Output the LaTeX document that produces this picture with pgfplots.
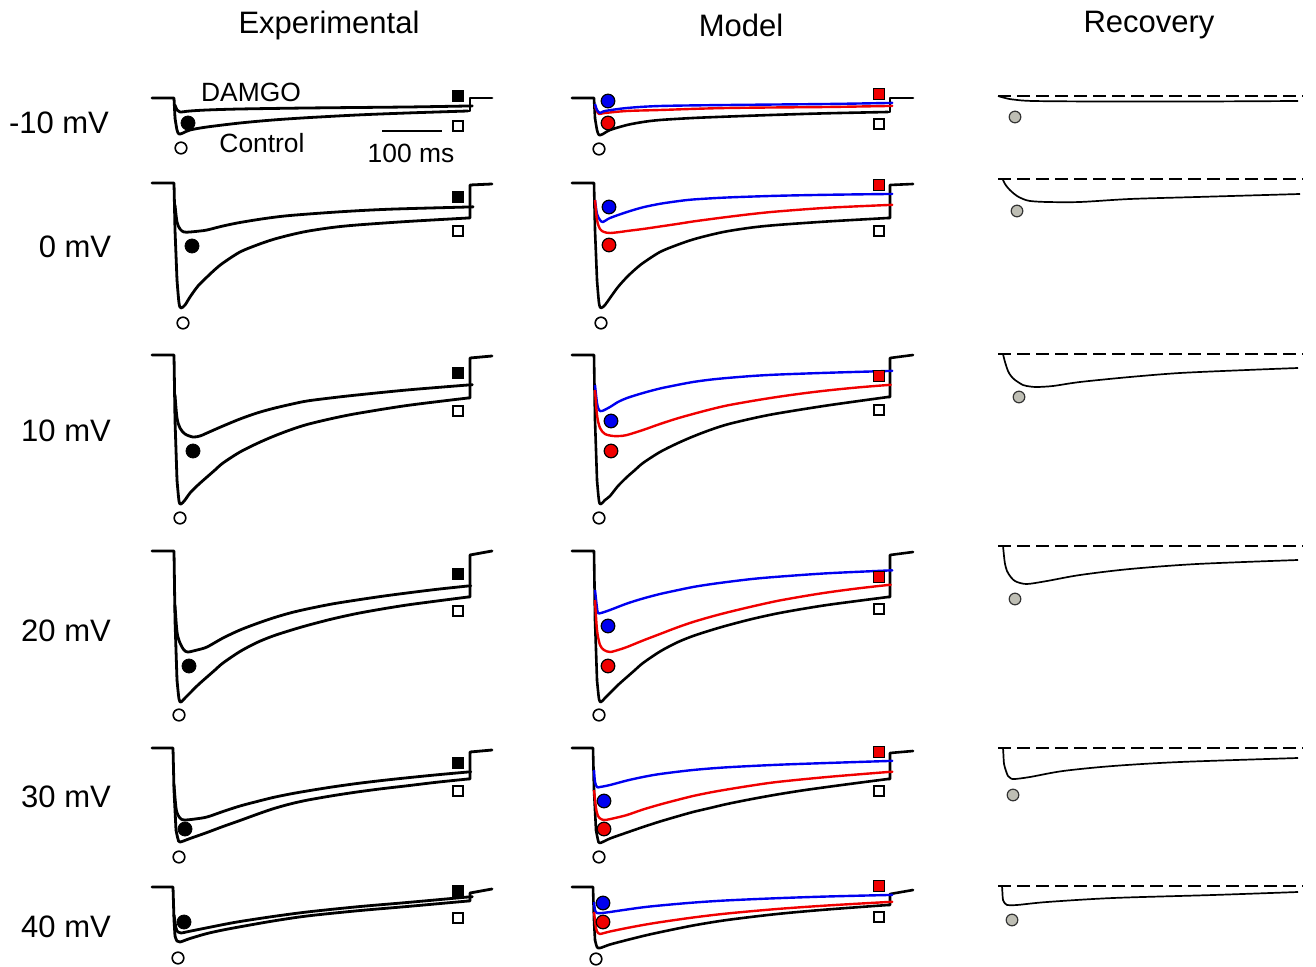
\documentclass[border=0pt]{standalone}
\usepackage{pgfplots}
\pgfplotsset{compat=1.18}
\usepackage{fontspec}
\setmainfont{Liberation Sans}
\definecolor{tblue}{RGB}{0,0,240}
\definecolor{tred}{RGB}{240,0,0}
\definecolor{tgray}{RGB}{190,190,180}
\pgfplotsset{
  ex/.style={black, line width=1.4pt, mark=none, line join=round, line cap=round},
  exs/.style={ex, smooth, tension=0.5},
  mb/.style={black, line width=1.3pt, mark=none, line join=round, line cap=round},
  mbs/.style={mb, smooth, tension=0.5},
  mr/.style={tred, line width=1.2pt, mark=none, line join=round, smooth, tension=0.5},
  mbl/.style={tblue, line width=1.2pt, mark=none, line join=round, smooth, tension=0.5},
  rc/.style={black, line width=0.85pt, mark=none, line join=round, smooth, tension=0.5},
  rd/.style={black, line width=0.9pt, mark=none, dash pattern=on 6.5pt off 3pt},
  fc/.style={only marks, mark=*, mark size=3.5pt, mark options={fill=black, draw=black}},
  oc/.style={only marks, mark=o, mark size=2.9pt, mark options={draw=black, line width=0.8pt, fill=white}},
  fs/.style={only marks, mark=square*, mark size=2.8pt, mark options={fill=black, draw=black}},
  os/.style={only marks, mark=square, mark size=2.6pt, mark options={draw=black, line width=0.8pt}},
  bc/.style={only marks, mark=*, mark size=3.4pt, mark options={fill=tblue, draw=black, line width=0.6pt}},
  rcm/.style={only marks, mark=*, mark size=3.4pt, mark options={fill=tred, draw=black, line width=0.6pt}},
  rs/.style={only marks, mark=square*, mark size=2.8pt, mark options={fill=tred, draw=black, line width=0.6pt}},
  gc/.style={only marks, mark=*, mark size=2.9pt, mark options={fill=tgray, draw=black!80, line width=0.6pt}},
}
\begin{document}
\begin{tikzpicture}
\begin{axis}[x=0.5pt, y=0.5pt, y dir=reverse, xmin=0, xmax=1316, ymin=0, ymax=967,
  hide axis, clip=false, scale only axis]
\addplot[draw=none, mark=none] coordinates {(0,0) (1316,967)};
% ---------------- Experimental ----------------
% row -10 mV
\addplot[ex] coordinates {(152,98)(174,98)(175,118)};
\addplot[exs] coordinates {(175,118)(177,130)(179,134)(183,133)(190,130)(207,127)(240,123)(273,120)(307,117.7)(357,115)(407,113)(468,111)};
\addplot[ex] coordinates {(468,111)(470,111)(470,98)(492,98)};
\addplot[exs] coordinates {(175,105)(177,110)(180,112)(190,111)(207,110)(240,109)(307,108)(407,107)(468,106)(470,106)};
% row 0 mV
\addplot[ex] coordinates {(152,183)(174,183)(175,230)(177,280)};
\addplot[exs] coordinates {(177,280)(179,303)(181,308)(185,305)(190,297)(198,286)(207,277)(215,269.5)(223,263)(240,252)(257,245)(273,239.5)(290,235)(307,231.3)(332,227.5)(357,225)(407,221.5)(468,218)};
\addplot[ex] coordinates {(468,218)(470,218)(470,185)(492,184)};
\addplot[exs] coordinates {(175,205)(177,222)(180,229)(184,232)(190,232)(200,231)(207,230)(223,226)(240,222.5)(265,218.5)(290,215.5)(340,211.8)(390,209.2)(468,207)(470,207)};
% row 10 mV
\addplot[ex] coordinates {(152,355)(174,355)(175,420)(177,480)};
\addplot[exs] coordinates {(177,480)(179,501)(181,504)(185,500)(190,493)(198,485)(207,477)(215,470)(223,463)(240,452)(257,443.5)(273,436.5)(290,430)(307,424.5)(332,418.5)(357,413.5)(407,405.5)(468,398)};
\addplot[ex] coordinates {(468,398)(470,398)(470,358)(492,356)};
\addplot[exs] coordinates {(175,395)(177,418)(180,428)(185,434)(193,437)(200,436)(207,433)(223,426)(240,419)(257,413)(273,408.5)(290,404.5)(307,401)(332,397.8)(357,395)(407,390)(468,385)(470,385)};
% row 20 mV
\addplot[ex] coordinates {(152,551)(174,551)(175,620)(177,680)};
\addplot[exs] coordinates {(177,680)(179,699)(181,702)(185,698)(190,693)(198,685)(207,677)(215,670)(223,663)(240,651.5)(257,642.5)(273,636)(290,630.5)(307,625.5)(332,619)(357,613.5)(382,609)(407,605)(437,601)(468,597)};
\addplot[ex] coordinates {(468,597)(470,597)(470,555)(492,551)};
\addplot[exs] coordinates {(175,605)(177,632)(180,643)(184,650)(188,652)(197,650)(207,647)(223,638)(240,630)(257,623.5)(273,618)(290,613)(307,609)(332,604)(357,600)(382,596.3)(407,593)(437,589.3)(468,586)(470,586)};
% row 30 mV
\addplot[ex] coordinates {(152,748)(173,748)(174,790)(176,830)};
\addplot[exs] coordinates {(176,830)(178,839)(180,842)(190,838.5)(207,832.5)(223,826.5)(240,820.5)(257,814.3)(273,808.8)(290,804)(307,800.2)(332,795.8)(357,792)(382,788.7)(407,785.8)(437,782.2)(468,779)};
\addplot[ex] coordinates {(468,779)(470,779)(470,752)(492,750)};
\addplot[exs] coordinates {(174,785)(176,808)(178,815)(181,819)(185,820)(195,819)(207,817)(223,811.5)(240,806)(257,801.5)(273,797.5)(290,794)(307,791)(332,787)(357,783.5)(382,780.5)(407,777.8)(437,774.8)(468,772)(470,772)};
% row 40 mV
\addplot[ex] coordinates {(152,887)(173,887)(174,920)(175,936)};
\addplot[exs] coordinates {(175,936)(177,941)(180,942)(190,938.5)(207,933.5)(223,930)(240,926.8)(273,921)(307,916)(357,910.8)(407,906.5)(468,901)};
\addplot[ex] coordinates {(468,901)(470,901)(470,893)(492,889)};
\addplot[exs] coordinates {(174,915)(176,928)(178,932)(181,933)(190,931.2)(207,927.8)(223,924.6)(240,921.5)(273,916.5)(307,912)(357,906.8)(407,902.5)(468,897)(470,897)};
% markers experimental
\addplot[fc] coordinates {(188,123)(192,246)(193,451)(189,666)(185,829)(184,922)};
\addplot[oc] coordinates {(181,148)(183,323)(180,518)(179,715)(179,857)(178,958)};
\addplot[fs] coordinates {(458,96)(458,197)(458,373)(458,574)(458,763)(458,891)};
\addplot[os] coordinates {(458,126)(458,231)(458,411)(458,611)(458,791)(458,918)};
% scale bar
\addplot[black, line width=0.8pt, mark=none] coordinates {(382,131)(442,131)};
% ---------------- Model ----------------
% row -10
\addplot[mb] coordinates {(572,98)(594,98)(595,118)};
\addplot[mbs] coordinates {(595,118)(597,130)(599,135)(603,134)(610,130)(627,125)(643,122)(660,120)(693,118)(727,116.6)(777,114.8)(827,113.3)(888,112)};
\addplot[mb] coordinates {(888,112)(890,112)(890,98)(913,98)};
\addplot[mr] coordinates {(595,106)(597,111)(599,114)(605,113)(627,111)(660,110)(727,108)(827,107)(888,106)(890,106)};
\addplot[mbl] coordinates {(595,104)(597,110)(600,113)(605,111)(627,108)(660,106)(727,105)(827,104)(888,103)(890,103)};
% row 0
\addplot[mb] coordinates {(572,183)(594,183)(595,230)(597,280)};
\addplot[mbs] coordinates {(597,280)(599,303)(601,308)(605,305)(610,298)(618,287)(627,277)(635,269.5)(643,263)(660,252)(677,245)(693,239.5)(710,235)(727,231.3)(752,227.5)(777,225)(827,221.5)(888,218)};
\addplot[mb] coordinates {(888,218)(890,218)(890,185)(913,184)};
\addplot[mbl] coordinates {(595,200)(597,214)(600,220)(603,222)(610,218)(627,212)(643,207.3)(660,203.8)(677,201.3)(693,199.5)(727,197.5)(777,195.8)(827,194.8)(888,194)(890,194)};
\addplot[mr] coordinates {(595,200)(597,220)(600,229)(604,232)(610,233)(620,232)(627,231)(643,229)(660,226.5)(677,224)(693,221.5)(710,219.2)(727,217)(752,214)(777,211.5)(827,207.8)(888,205)(890,205)};
% row 10
\addplot[mb] coordinates {(572,355)(594,355)(595,420)(597,480)};
\addplot[mbs] coordinates {(597,480)(599,501)(601,504)(605,500)(610,496)(618,486)(627,477)(635,470)(643,463)(660,452)(677,443.5)(693,436.5)(710,430)(727,424.5)(752,418.5)(777,413.5)(827,405.5)(888,397)};
\addplot[mb] coordinates {(888,397)(890,397)(890,358)(913,355)};
\addplot[mbl] coordinates {(595,385)(597,403)(599,410)(602,411)(610,407)(618,402)(627,398)(643,393)(660,388.5)(677,385)(693,382)(710,379.7)(727,378)(752,376)(777,374.6)(827,372.8)(888,371)(890,371)};
\addplot[mr] coordinates {(595,390)(597,415)(600,428)(605,434)(613,436)(620,436)(627,435)(643,430)(660,424)(677,418.5)(693,414)(710,409.5)(727,405.5)(752,401)(777,397)(802,393.5)(827,390.5)(857,387.5)(888,385)(890,385)};
% row 20
\addplot[mb] coordinates {(572,551)(594,551)(595,620)(597,680)};
\addplot[mbs] coordinates {(597,680)(599,699)(601,702)(605,698)(610,693)(618,685)(627,677)(635,670)(643,663)(660,651.5)(677,642.5)(693,636)(710,630.5)(727,625.5)(752,619)(777,613.5)(802,609)(827,605)(857,601)(888,597)};
\addplot[mb] coordinates {(888,597)(890,597)(890,555)(913,552)};
\addplot[mbl] coordinates {(595,590)(597,608)(598,613)(601,613)(610,610)(627,603.5)(643,598.5)(660,594)(677,590.3)(693,587)(710,584.3)(727,582)(752,579)(777,576.8)(827,573.3)(888,570.5)(890,570.5)};
\addplot[mr] coordinates {(595,600)(597,630)(600,645)(604,650)(610,652)(618,650)(627,647)(643,640.5)(660,634)(677,627.5)(693,622)(710,617)(727,612.5)(752,606.5)(777,601)(802,596.5)(827,592.5)(857,588.5)(888,585)(890,585)};
% row 30
\addplot[mb] coordinates {(572,748)(593,748)(594,790)(596,830)};
\addplot[mbs] coordinates {(596,830)(598,840)(600,843)(610,838.5)(627,832.5)(643,827)(660,821.5)(677,816.5)(693,812)(710,808)(727,804)(752,799)(777,794.5)(802,790.5)(827,787)(857,783)(888,779)};
\addplot[mb] coordinates {(888,779)(890,779)(890,753)(913,751)};
\addplot[mbl] coordinates {(594,770)(595,782)(597,787)(600,787)(610,785)(627,780.5)(643,777)(660,774)(693,770)(727,767.3)(777,764.8)(827,763)(888,761)(890,761)};
\addplot[mr] coordinates {(594,790)(596,808)(598,816)(601,819)(605,820)(615,818)(627,815)(643,809.5)(660,804.5)(677,800)(693,796)(710,792.5)(727,789.5)(752,785.5)(777,782)(827,777)(888,772)(890,772)};
% row 40
\addplot[mb] coordinates {(572,887)(593,887)(594,920)(595,940)};
\addplot[mbs] coordinates {(595,940)(597,947)(600,948)(610,944.5)(627,940)(643,936)(660,932.2)(693,925.5)(727,920)(777,914)(827,909.5)(888,905)};
\addplot[mb] coordinates {(888,905)(890,905)(890,894)(913,890)};
\addplot[mbl] coordinates {(594,902)(595,910)(597,913)(602,913)(610,912)(627,909.5)(643,907.3)(660,905.5)(693,902.6)(727,900.4)(777,898.2)(827,896.5)(888,895)(890,895)};
\addplot[mr] coordinates {(594,912)(596,928)(598,933)(600,934)(610,931.5)(627,928)(643,925)(660,922.2)(693,917.5)(727,913.5)(777,909)(827,905.5)(888,902)(890,902)};
% markers model
\addplot[bc] coordinates {(608,101)(609,207)(611,421)(608,626)(604,801)(603,903)};
\addplot[rcm] coordinates {(608,123)(609,245)(611,451)(608,666)(604,829)(603,922)};
\addplot[oc] coordinates {(599,149)(601,323)(599,518)(599,715)(599,857)(596,959)};
\addplot[rs] coordinates {(879,94)(879,185)(879,376)(879,577)(879,752)(879,886)};
\addplot[os] coordinates {(879,124)(879,231)(879,410)(879,609)(879,791)(879,917)};
% ---------------- Recovery ----------------
\addplot[rd] coordinates {(998,96)(1303,96)};
\addplot[rd] coordinates {(998,179)(1303,179)};
\addplot[rd] coordinates {(998,354)(1303,354)};
\addplot[rd] coordinates {(998,546)(1303,546)};
\addplot[rd] coordinates {(998,748)(1303,748)};
\addplot[rd] coordinates {(998,886)(1303,886)};
\addplot[rc] coordinates {(998,96)(1005,98)(1013,99.5)(1033,101)(1100,101.5)(1200,101.5)(1298,101)};
\addplot[rc] coordinates {(1003,180)(1005,184)(1008,188)(1012,192)(1017,196)(1023,199)(1030,201)(1047,202)(1080,202)(1130,199)(1197,197)(1300,194)};
\addplot[rc] coordinates {(1003,354)(1005,362)(1008,371)(1011,376)(1015,380)(1023,385)(1030,386.5)(1037,387)(1053,386)(1080,382)(1130,377)(1180,373)(1247,370)(1298,368)};
\addplot[rc] coordinates {(1003,546)(1004,556)(1005,564)(1007,571)(1010,576)(1013,579.5)(1017,582)(1027,584)(1047,581)(1080,575)(1130,569)(1197,564)(1298,560)};
\addplot[rc] coordinates {(1003,748)(1003.5,756)(1004,764)(1006,771)(1008,776)(1011,778.5)(1015,779)(1030,777)(1063,771)(1113,766)(1180,762)(1298,758)};
\addplot[rc] coordinates {(1002,886)(1002.5,894)(1003,900)(1005,903.5)(1007,905)(1017,905)(1047,902)(1113,898)(1213,895)(1298,892)};
\addplot[gc] coordinates {(1015,117)(1017,211)(1019,397)(1015,599)(1013,795)(1012,920)};
% ---------------- Text ----------------
\node[font=\fontsize{15.5}{18}\selectfont] at (axis cs:329,25) {Experimental};
\node[font=\fontsize{15.5}{18}\selectfont] at (axis cs:741,25) {Model};
\node[font=\fontsize{15.5}{18}\selectfont] at (axis cs:1149,25) {Recovery};
\node[font=\fontsize{15.5}{18}\selectfont] at (axis cs:59,123) {-10 mV};
\node[font=\fontsize{15.5}{18}\selectfont] at (axis cs:75,247) {0 mV};
\node[font=\fontsize{15.5}{18}\selectfont] at (axis cs:66,431) {10 mV};
\node[font=\fontsize{15.5}{18}\selectfont] at (axis cs:66,631) {20 mV};
\node[font=\fontsize{15.5}{18}\selectfont] at (axis cs:66,797) {30 mV};
\node[font=\fontsize{15.5}{18}\selectfont] at (axis cs:66,927) {40 mV};
\node[font=\fontsize{13.2}{16}\selectfont] at (axis cs:251,92) {DAMGO};
\node[font=\fontsize{13.2}{16}\selectfont] at (axis cs:262,143) {Control};
\node[font=\fontsize{13.2}{16}\selectfont] at (axis cs:411,153) {100 ms};
\end{axis}
\end{tikzpicture}
\end{document}
